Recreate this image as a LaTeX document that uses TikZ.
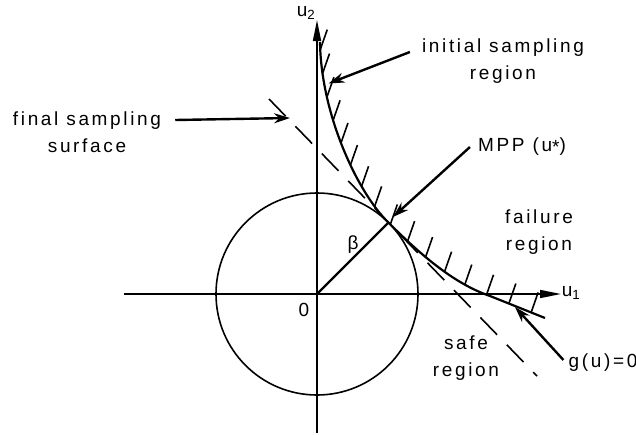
\documentclass[tikz,border=0pt]{standalone}
\usepackage{fontspec}
\setmainfont[LetterSpace=14]{Liberation Sans}
\usetikzlibrary{arrows.meta,decorations.markings}

\begin{document}
\begin{tikzpicture}[x=1pt,y=-1pt,
  lbl/.style={align=center,inner sep=0pt,font=\fontsize{19}{27}\selectfont},
  axis/.style={line width=1.6pt,-{Triangle[length=21pt,width=8pt]}},
  arrow/.style={line width=2.4pt,-{Stealth[length=16pt,width=10pt]}},
  hatch/.style={line width=1.6pt},
  limit/.style={line width=2.2pt}]
\useasboundingbox (0,0) rectangle (636,434);
\coordinate (O)   at (317,294);
\coordinate (mpp) at (388.4,222.6);
% circle and axes
\draw[line width=1.6pt] (O) circle[radius=101pt];
\draw[axis] (124,294) -- (561,294);
\draw[axis] (317,433) -- (317,20);
\node[lbl] (u1) at (571,293) {u\textsubscript{1}};
\node[lbl] (u2) at (306,13)  {u\textsubscript{2}};
\node[lbl] (org) at (304,310) {0};
\draw[limit] (O) -- (mpp);
\node[lbl] (beta) at (353,245) {β};
% linearised surface through the MPP
\draw[line width=1.6pt,dash pattern=on 24pt off 14pt] (269,99) -- (537,376);
% limit state g(u)=0 with hatching on the failure side
\draw[limit,postaction={decorate},decoration={markings,
    mark=between positions 0.02 and 0.97 step 24pt with
    {\pgftransformresetnontranslations \draw[hatch] (0,0) -- (7,-20);}}]
  (320,42) .. controls (321,115) and (358,193) .. (mpp)
  .. controls (418,252) and (452,283) .. (490,296) -- (545,318);
% labels
\node[lbl] (isr)     at (503,61)  {initial sampling\\region};
\node[lbl] (fss)     at (87,132)  {final sampling\\surface};
\node[lbl] (mpplbl)  at (522,147) {MPP (u\raisebox{-2pt}{*})};
\node[lbl] (fail)    at (539,232) {failure\\region};
\node[lbl] (safe)    at (466,358) {safe\\region};
\node[lbl] (gu)      at (603,363) {g(u)=0};
\coordinate (isrtip) at (328.5,83.5);
\coordinate (fsstip) at (290,118);
\coordinate (mpptip) at (393,217);
\coordinate (gtip)   at (515,307);
\draw[arrow] ([shift={(-12pt,9pt)}]isr.west)  -- (isrtip);
\draw[arrow] ([shift={(14pt,12pt)}]fss.east)  -- (fsstip);
\draw[arrow] ([xshift=-8pt]mpplbl.west)      -- (mpptip);
\draw[arrow] ([shift={(-5pt,3pt)}]gu.west)    -- (gtip);
\end{tikzpicture}
\end{document}
